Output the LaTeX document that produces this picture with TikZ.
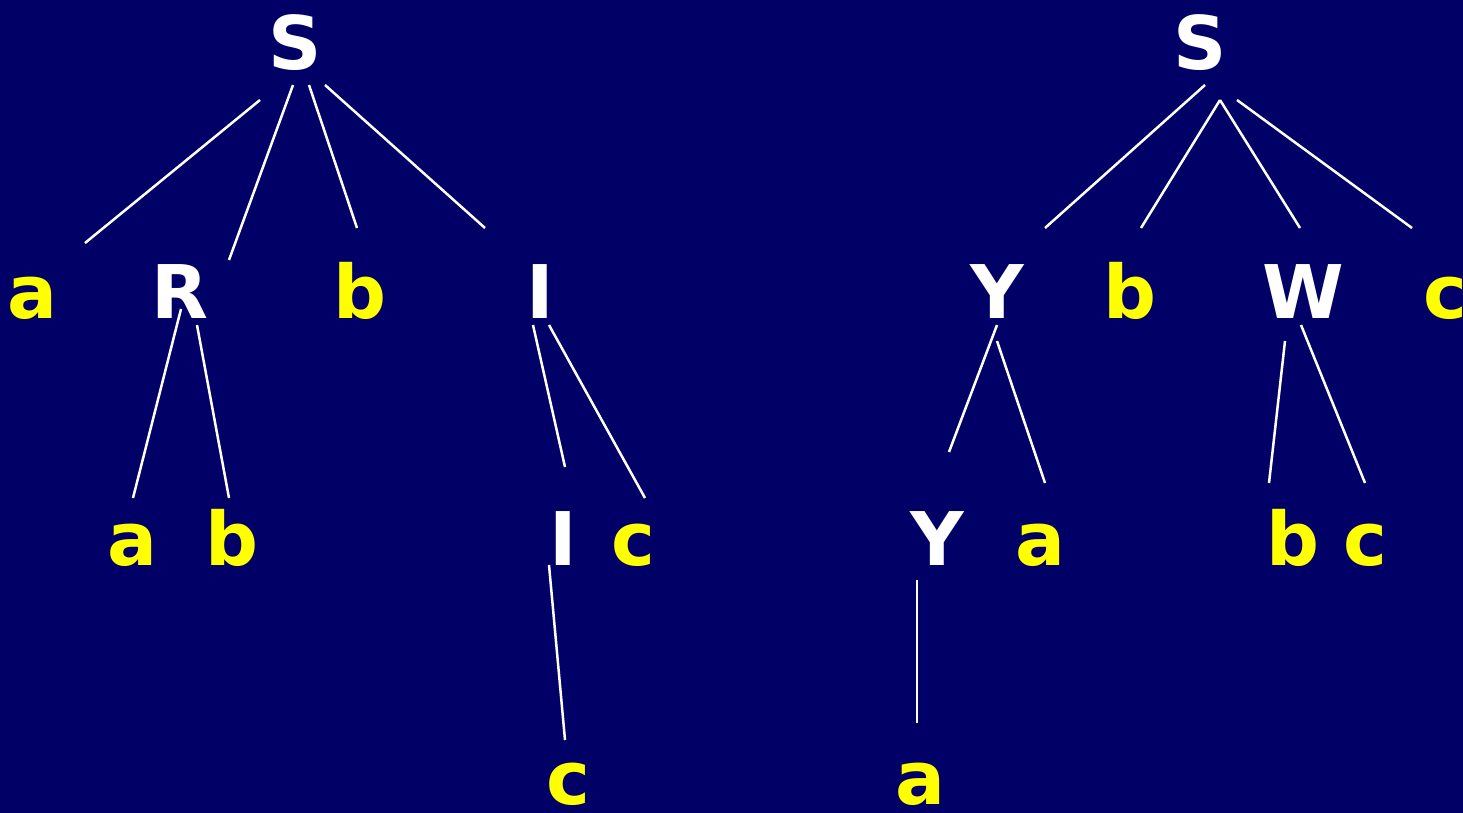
\documentclass[tikz,border=0pt]{standalone}
\usepackage{fontspec}
\setmainfont{DejaVu Sans}
\usetikzlibrary{calc}
\definecolor{bgnavy}{HTML}{000066}
\definecolor{termyellow}{HTML}{FFFF00}
\tikzset{
  sym/.style={anchor=base, inner sep=0pt, font=\fontsize{74}{78}\selectfont\bfseries},
  nonterm/.style={sym, text=white},
  term/.style={sym, text=termyellow},
  edge/.style={draw=white, line width=2.5pt}
}
\begin{document}
\begin{tikzpicture}[x=1pt, y=-1pt]
\fill[bgnavy] (0,0) rectangle (1463,813);
\useasboundingbox (0,0) rectangle (1463,813);
% left tree
\node[nonterm] (S1) at (295,70) {S};
\node[term] (a1) at (32,318) {a};
\node[nonterm] (R) at (180,318) {R};
\node[term] (b1) at (360,318) {b};
\node[nonterm] (I1) at (540,318) {I};
\node[term] (a2) at (132,565) {a};
\node[term] (b2) at (232,565) {b};
\node[nonterm] (I2) at (563,565) {I};
\node[term] (c1) at (633,565) {c};
\node[term] (c2) at (568,804) {c};
\draw[edge] ($(S1.base)+(-35,30)$) -- ($(a1.base)+(53,-75)$);
\draw[edge] ($(S1.base)+(-2,15)$) -- ($(R.base)+(49,-58)$);
\draw[edge] ($(S1.base)+(14,15)$) -- ($(b1.base)+(-3,-90)$);
\draw[edge] ($(S1.base)+(30,15)$) -- ($(I1.base)+(-55,-90)$);
\draw[edge] ($(R.base)+(1,-9)$) -- ($(a2.base)+(1,-67)$);
\draw[edge] ($(R.base)+(17,7)$) -- ($(b2.base)+(-3,-67)$);
\draw[edge] ($(I1.base)+(-7,7)$) -- ($(I2.base)+(2,-98)$);
\draw[edge] ($(I1.base)+(9,7)$) -- ($(c1.base)+(12,-67)$);
\draw[edge] ($(I2.base)+(-14,0)$) -- ($(c2.base)+(-3,-64)$);
% right tree
\node[nonterm] (S2) at (1200,70) {S};
\node[nonterm] (Y1) at (997,318) {Y};
\node[term] (b3) at (1130,318) {b};
\node[nonterm] (W) at (1303,318) {W};
\node[term] (c3) at (1445,318) {c};
\node[nonterm] (Y2) at (937,565) {Y};
\node[term] (a3) at (1040,565) {a};
\node[term] (b4) at (1293,565) {b};
\node[term] (c4) at (1365,565) {c};
\node[term] (a4) at (920,804) {a};
\draw[edge] ($(S2.base)+(5,15)$) -- ($(Y1.base)+(48,-90)$);
\draw[edge] ($(S2.base)+(20,30)$) -- ($(b3.base)+(11,-90)$);
\draw[edge] ($(S2.base)+(20,30)$) -- ($(W.base)+(-3,-90)$);
\draw[edge] ($(S2.base)+(37,30)$) -- ($(c3.base)+(-33,-90)$);
\draw[edge] ($(Y1.base)+(0,7)$) -- ($(Y2.base)+(12,-113)$);
\draw[edge] ($(Y1.base)+(0,23)$) -- ($(a3.base)+(5,-82)$);
\draw[edge] ($(W.base)+(-18,23)$) -- ($(b4.base)+(-24,-82)$);
\draw[edge] ($(W.base)+(-2,7)$) -- ($(c4.base)+(0,-82)$);
\draw[edge] ($(Y2.base)+(-20,15)$) -- ($(a4.base)+(-3,-81)$);
\end{tikzpicture}
\end{document}
